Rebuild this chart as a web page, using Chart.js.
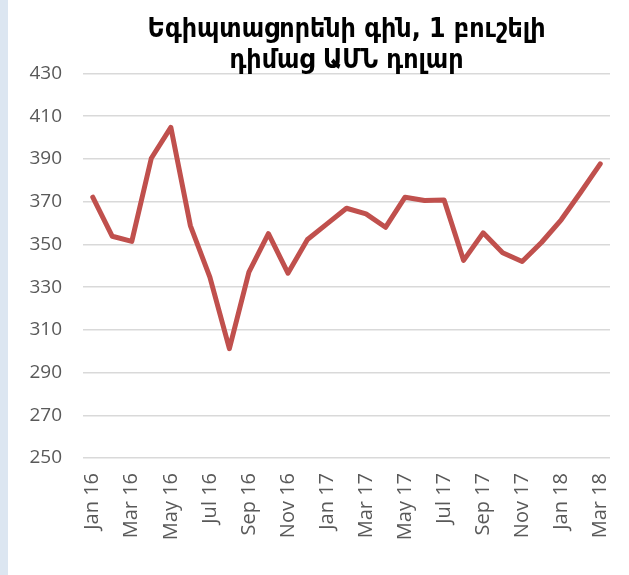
<!DOCTYPE html>
<html>
<head>
<meta charset="utf-8">
<script src="https://cdn.jsdelivr.net/npm/chart.js@4/dist/chart.umd.min.js"></script>
<style>
  html, body { margin: 0; padding: 0; background: #dce6f1; }
  #wrap { position: absolute; left: 8px; top: 0; width: 621px; height: 575px; background: #ffffff; }
  canvas { display: block; }
</style>
</head>
<body>
<div id="wrap"><canvas id="c" width="621" height="575"></canvas></div>
<script>
const titleLines = ["Եգիպտացորենի գին, 1 բուշելի", "դիմաց ԱՄՆ դոլար"];
const categories = ["Jan 16","Feb 16","Mar 16","Apr 16","May 16","Jun 16","Jul 16","Aug 16","Sep 16","Oct 16","Nov 16","Dec 16",
                    "Jan 17","Feb 17","Mar 17","Apr 17","May 17","Jun 17","Jul 17","Aug 17","Sep 17","Oct 17","Nov 17","Dec 17",
                    "Jan 18","Feb 18","Mar 18"];
const prices = [372.1, 353.8, 351.4, 390.3, 404.8, 358.8, 334.7, 301.2, 337.0, 355.0, 336.5, 352.3,
                359.6, 366.9, 364.3, 358.0, 372.1, 370.5, 370.8, 342.5, 355.4, 346.1, 342.0, 351.0,
                361.5, 374.4, 387.7];
const yMin = 250, yMax = 430, yStep = 20;

new Chart(document.getElementById('c'), {
  type: 'line',
  data: {
    labels: categories,
    datasets: [{
      data: prices,
      borderColor: '#c0504d',
      backgroundColor: '#c0504d',
      borderWidth: 5,
      pointRadius: 0,
      tension: 0,
      borderJoinStyle: 'round',
      borderCapStyle: 'round',
      fill: false
    }]
  },
  options: {
    responsive: false,
    animation: false,
    layout: { padding: { left: 0, right: 19, top: 0, bottom: 0 } },
    plugins: {
      legend: { display: false },
      tooltip: { enabled: false },
      title: {
        display: true,
        text: titleLines,
        fullSize: false,
        color: '#000000',
        font: { family: "'DejaVu Sans Condensed', 'DejaVu Sans', sans-serif", size: 26.5, weight: 'bold', lineHeight: 1.16 },
        padding: { top: 15, bottom: -3 }
      }
    },
    scales: {
      x: {
        offset: true,
        grid: { display: false, drawTicks: false },
        border: { display: false },
        ticks: {
          autoSkip: false,
          maxRotation: 90,
          minRotation: 90,
          padding: 15,
          color: '#595959',
          font: { family: "'Open Sans', sans-serif", size: 20 },
          callback: function(v, i) { return i % 2 === 0 ? categories[i] : ''; }
        },
        afterFit: function(s) { s.height = 117; s.paddingLeft = 0; s.paddingRight = 0; }
      },
      y: {
        min: yMin,
        max: yMax,
        grid: { color: '#d9d9d9', lineWidth: 1.5, drawTicks: false },
        border: { display: false },
        ticks: {
          stepSize: yStep,
          padding: 21,
          color: '#595959',
          font: { family: "'Open Sans', sans-serif", size: 19 }
        },
        afterFit: function(s) { s.width = 75; }
      }
    }
  }
});
</script>
</body>
</html>
